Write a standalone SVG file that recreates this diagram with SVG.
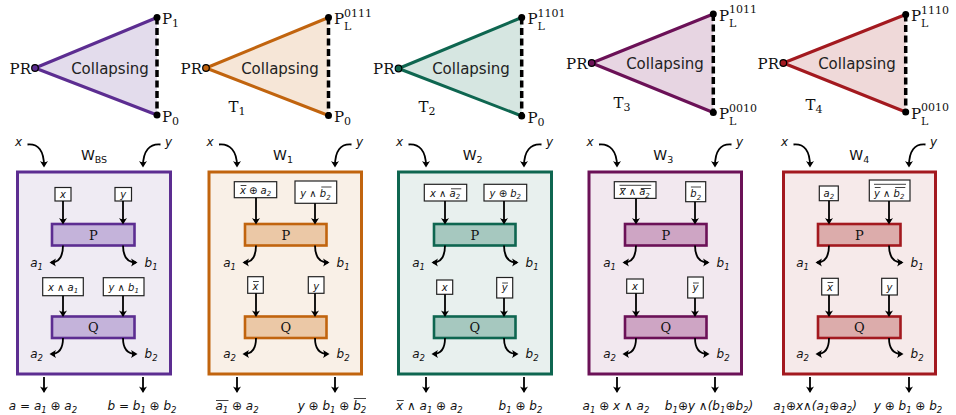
<svg xmlns="http://www.w3.org/2000/svg" width="956" height="415" viewBox="0 0 956 415">
<defs>
<marker id="ah" viewBox="-6 -5 8 10" refX="0" refY="0" markerWidth="8" markerHeight="10" markerUnits="userSpaceOnUse" orient="auto">
<path d="M1.5,0 L-5,-4 Q-2.6,0 -5,4 Z" fill="#000"/>
</marker>
<style>
.edge{stroke-width:3;stroke-linecap:round}
.dash{stroke:#000;stroke-width:3.5;stroke-dasharray:7 3.5}
.vtx{fill:#000}
.root{stroke:#000;stroke-width:1.2}
.rm{font-family:"DejaVu Serif","Liberation Serif",serif;font-size:15px;fill:#111}
.cl{font-family:"DejaVu Sans","Liberation Sans",sans-serif;font-size:15px;fill:#222}
.mi{font-family:"DejaVu Sans","Liberation Sans",sans-serif;font-style:italic;fill:#111}
.bx{font-size:10px}
.lb{font-size:12px}
.w{font-family:"DejaVu Sans","Liberation Sans",sans-serif;font-size:14px;fill:#111}
.frame{stroke-width:3}
.proc{stroke-width:2.6}
.inbox{fill:#fff;stroke:#222;stroke-width:1.2}
.tt{font-family:"DejaVu Serif","Liberation Serif",serif;font-size:13px;fill:#111}
.wire{fill:none;stroke:#000;stroke-width:1.8;marker-end:url(#ah)}
.ol{stroke:#111;stroke-width:0.8}
</style>
</defs>

<!-- ===== collapsing triangles ===== -->
<g id="tri-bs">
<polygon points="35,68 157,17.5 157,115" fill="#e3dcec"/>
<line x1="35" y1="68" x2="157" y2="17.5" class="edge" stroke="#5c2d91"/>
<line x1="35" y1="68" x2="157" y2="115" class="edge" stroke="#5c2d91"/>
<line x1="157" y1="17.5" x2="157" y2="115" class="dash"/>
<circle cx="157" cy="17.5" r="3.5" class="vtx"/><circle cx="157" cy="115" r="3.5" class="vtx"/>
<circle cx="35" cy="68" r="3.3" fill="#5c2d91" class="root"/>
<text x="31" y="73.5" class="rm" text-anchor="end">PR</text>
<text x="162" y="24" class="rm">P<tspan font-size="11" dy="3">1</tspan></text>
<text x="162" y="122" class="rm">P<tspan font-size="11" dy="3">0</tspan></text>
<text x="110" y="73.5" class="cl" text-anchor="middle">Collapsing</text>
</g>

<g id="tri-1">
<polygon points="206,68 328.5,17.5 328.5,115.5" fill="#f6e6d7"/>
<line x1="206" y1="68" x2="328.5" y2="17.5" class="edge" stroke="#c1640e"/>
<line x1="206" y1="68" x2="328.5" y2="115.5" class="edge" stroke="#c1640e"/>
<line x1="328.5" y1="17.5" x2="328.5" y2="115.5" class="dash"/>
<circle cx="328.5" cy="17.5" r="3.5" class="vtx"/><circle cx="328.5" cy="115.5" r="3.5" class="vtx"/>
<circle cx="206" cy="68" r="3.3" fill="#c1640e" class="root"/>
<text x="202" y="73.5" class="rm" text-anchor="end">PR</text>
<text x="334" y="24" class="rm">P<tspan font-size="11" x="344" y="16.5">0111</tspan><tspan font-size="11" x="344" y="30">L</tspan></text>
<text x="334" y="122" class="rm">P<tspan font-size="11" dy="3">0</tspan></text>
<text x="237" y="112" class="rm" text-anchor="middle">T<tspan font-size="11" dy="3">1</tspan></text>
<text x="280" y="73.5" class="cl" text-anchor="middle">Collapsing</text>
</g>

<g id="tri-2">
<polygon points="398.5,68.5 521.7,17.5 521.7,116" fill="#d6e6e1"/>
<line x1="398.5" y1="68.5" x2="521.7" y2="17.5" class="edge" stroke="#0e6650"/>
<line x1="398.5" y1="68.5" x2="521.7" y2="116" class="edge" stroke="#0e6650"/>
<line x1="521.7" y1="17.5" x2="521.7" y2="116" class="dash"/>
<circle cx="521.7" cy="17.5" r="3.5" class="vtx"/><circle cx="521.7" cy="116" r="3.5" class="vtx"/>
<circle cx="398.5" cy="68.5" r="3.3" fill="#0e6650" class="root"/>
<text x="394.5" y="74" class="rm" text-anchor="end">PR</text>
<text x="527.5" y="24" class="rm">P<tspan font-size="11" x="537.5" y="16.5">1101</tspan><tspan font-size="11" x="537.5" y="30">L</tspan></text>
<text x="527.5" y="122.5" class="rm">P<tspan font-size="11" dy="3">0</tspan></text>
<text x="427" y="111.5" class="rm" text-anchor="middle">T<tspan font-size="11" dy="3">2</tspan></text>
<text x="471" y="74" class="cl" text-anchor="middle">Collapsing</text>
</g>

<g id="tri-3">
<polygon points="591.7,63 713.3,14 713.3,112.5" fill="#e7d5e2"/>
<line x1="591.7" y1="63" x2="713.3" y2="14" class="edge" stroke="#6b1157"/>
<line x1="591.7" y1="63" x2="713.3" y2="112.5" class="edge" stroke="#6b1157"/>
<line x1="713.3" y1="14" x2="713.3" y2="112.5" class="dash"/>
<circle cx="713.3" cy="14" r="3.5" class="vtx"/><circle cx="713.3" cy="112.5" r="3.5" class="vtx"/>
<circle cx="591.7" cy="63" r="3.3" fill="#6b1157" class="root"/>
<text x="587.5" y="68.5" class="rm" text-anchor="end">PR</text>
<text x="719" y="20.5" class="rm">P<tspan font-size="11" x="729" y="13">1011</tspan><tspan font-size="11" x="729" y="26.5">L</tspan></text>
<text x="719" y="119" class="rm">P<tspan font-size="11" x="729" y="111.5">0010</tspan><tspan font-size="11" x="729" y="125">L</tspan></text>
<text x="622" y="107.5" class="rm" text-anchor="middle">T<tspan font-size="11" dy="3">3</tspan></text>
<text x="665" y="68.5" class="cl" text-anchor="middle">Collapsing</text>
</g>

<g id="tri-4">
<polygon points="783.3,63 905.7,14.5 905.7,112" fill="#efd9d9"/>
<line x1="783.3" y1="63" x2="905.7" y2="14.5" class="edge" stroke="#a3191f"/>
<line x1="783.3" y1="63" x2="905.7" y2="112" class="edge" stroke="#a3191f"/>
<line x1="905.7" y1="14.5" x2="905.7" y2="112" class="dash"/>
<circle cx="905.7" cy="14.5" r="3.5" class="vtx"/><circle cx="905.7" cy="112" r="3.5" class="vtx"/>
<circle cx="783.3" cy="63" r="3.3" fill="#a3191f" class="root"/>
<text x="779" y="68.5" class="rm" text-anchor="end">PR</text>
<text x="911" y="21" class="rm">P<tspan font-size="11" x="921" y="13.5">1110</tspan><tspan font-size="11" x="921" y="27">L</tspan></text>
<text x="911" y="118.5" class="rm">P<tspan font-size="11" x="921" y="111">0010</tspan><tspan font-size="11" x="921" y="124.5">L</tspan></text>
<text x="814" y="110" class="rm" text-anchor="middle">T<tspan font-size="11" dy="3">4</tspan></text>
<text x="857" y="68.5" class="cl" text-anchor="middle">Collapsing</text>
</g>

<!-- ===== panel frames and labels ===== -->
<g id="panel-bs">
<rect x="17.5" y="172" width="153" height="202" class="frame" fill="#efebf3" stroke="#5c2d91"/>
<text x="94" y="160" class="w" text-anchor="middle">W<tspan font-size="9.5" dy="3">BS</tspan></text>
<text x="18.5" y="146" class="mi lb" text-anchor="middle">x</text>
<text x="168.5" y="146" class="mi lb" text-anchor="middle">y</text>
</g>
<g id="panel-1">
<rect x="209" y="172" width="152.5" height="202" class="frame" fill="#f9f0e7" stroke="#c1640e"/>
<text x="283" y="160" class="w" text-anchor="middle">W<tspan font-size="9.5" dy="3">1</tspan></text>
<text x="210" y="146" class="mi lb" text-anchor="middle">x</text>
<text x="359.5" y="146" class="mi lb" text-anchor="middle">y</text>
</g>
<g id="panel-2">
<rect x="398.5" y="172" width="153" height="202" class="frame" fill="#e8f0ee" stroke="#0e6650"/>
<text x="472.7" y="160" class="w" text-anchor="middle">W<tspan font-size="9.5" dy="3">2</tspan></text>
<text x="399.5" y="146" class="mi lb" text-anchor="middle">x</text>
<text x="549.5" y="146" class="mi lb" text-anchor="middle">y</text>
</g>
<g id="panel-3">
<rect x="589" y="172" width="152.5" height="202" class="frame" fill="#f2e8ef" stroke="#6b1157"/>
<text x="663.3" y="160" class="w" text-anchor="middle">W<tspan font-size="9.5" dy="3">3</tspan></text>
<text x="590" y="146" class="mi lb" text-anchor="middle">x</text>
<text x="739.5" y="146" class="mi lb" text-anchor="middle">y</text>
</g>
<g id="panel-4">
<rect x="783.5" y="172" width="152" height="202" class="frame" fill="#f6eaea" stroke="#a3191f"/>
<text x="859.3" y="160" class="w" text-anchor="middle">W<tspan font-size="9.5" dy="3">4</tspan></text>
<text x="784.5" y="146" class="mi lb" text-anchor="middle">x</text>
<text x="933.5" y="146" class="mi lb" text-anchor="middle">y</text>
</g>

<!-- ===== W_BS nodes ===== -->
<g id="bs-in-x"><rect x="55" y="187.5" width="16" height="13.5" class="inbox"/><text x="63" y="197.8" class="mi bx" text-anchor="middle">x</text></g>
<g id="bs-in-y"><rect x="115" y="187.5" width="16.5" height="13.5" class="inbox"/><text x="123.2" y="197.5" class="mi bx" text-anchor="middle">y</text></g>
<g id="bs-P"><rect x="52" y="224" width="82.5" height="21.5" class="proc" fill="#c4b3da" stroke="#5c2d91"/><text x="93.25" y="239.5" class="tt" text-anchor="middle">P</text></g>
<g id="bs-in2-x"><rect x="42.7" y="277.7" width="40.6" height="18" class="inbox"/><text x="63" y="290.5" class="mi bx" text-anchor="middle">x ∧ a<tspan font-size="7" dy="2.5">1</tspan></text></g>
<g id="bs-in2-y"><rect x="103.3" y="277.7" width="40.7" height="18" class="inbox"/><text x="123.7" y="290.5" class="mi bx" text-anchor="middle">y ∧ b<tspan font-size="7" dy="2.5">1</tspan></text></g>
<g id="bs-Q"><rect x="52" y="316.5" width="82.5" height="21.5" class="proc" fill="#c4b3da" stroke="#5c2d91"/><text x="93.25" y="332" class="tt" text-anchor="middle">Q</text></g>
<g id="bs-labels">
<text x="43" y="267" class="mi lb" text-anchor="end">a<tspan font-size="8.5" dy="3">1</tspan></text>
<text x="144.5" y="267" class="mi lb">b<tspan font-size="8.5" dy="3">1</tspan></text>
<text x="43" y="358" class="mi lb" text-anchor="end">a<tspan font-size="8.5" dy="3">2</tspan></text>
<text x="144.5" y="358" class="mi lb">b<tspan font-size="8.5" dy="3">2</tspan></text>
<text x="43" y="409.5" class="mi lb" text-anchor="middle">a = a<tspan font-size="8.5" dy="3">1</tspan><tspan dy="-3"> ⊕ a</tspan><tspan font-size="8.5" dy="3">2</tspan></text>
<text x="142" y="409.5" class="mi lb" text-anchor="middle">b = b<tspan font-size="8.5" dy="3">1</tspan><tspan dy="-3"> ⊕ b</tspan><tspan font-size="8.5" dy="3">2</tspan></text>
</g>

<!-- ===== W1 nodes ===== -->
<g id="w1-in-x"><rect x="234.3" y="181.7" width="42.4" height="16" class="inbox"/><text x="239.9" y="193.5" class="mi bx">x ⊕ a<tspan font-size="7" dy="2.5">2</tspan></text><line x1="240.6" y1="185.5" x2="246.4" y2="185.5" class="ol"/></g>
<g id="w1-in-y"><rect x="295" y="181" width="41.7" height="22.3" class="inbox"/><text x="300.2" y="197" class="mi bx">y ∧ b<tspan font-size="7" dy="2.5">2</tspan></text><line x1="321.3" y1="187" x2="331.5" y2="187" class="ol"/></g>
<g id="w1-P"><rect x="245" y="224" width="81.5" height="21.5" class="proc" fill="#ebc8a6" stroke="#c1640e"/><text x="285.75" y="239.5" class="tt" text-anchor="middle">P</text></g>
<g id="w1-in2-x"><rect x="247.7" y="276.7" width="15.6" height="16.6" class="inbox"/><text x="255.5" y="289.5" class="mi bx" text-anchor="middle">x</text><line x1="253" y1="281.5" x2="258.8" y2="281.5" class="ol"/></g>
<g id="w1-in2-y"><rect x="308.3" y="276.7" width="15.7" height="16.6" class="inbox"/><text x="316.2" y="289.5" class="mi bx" text-anchor="middle">y</text></g>
<g id="w1-Q"><rect x="245" y="316.5" width="81.5" height="21.5" class="proc" fill="#ebc8a6" stroke="#c1640e"/><text x="285.75" y="332" class="tt" text-anchor="middle">Q</text></g>
<g id="w1-labels">
<text x="236" y="267" class="mi lb" text-anchor="end">a<tspan font-size="8.5" dy="3">1</tspan></text>
<text x="336.5" y="267" class="mi lb">b<tspan font-size="8.5" dy="3">1</tspan></text>
<text x="236" y="358" class="mi lb" text-anchor="end">a<tspan font-size="8.5" dy="3">2</tspan></text>
<text x="336.5" y="358" class="mi lb">b<tspan font-size="8.5" dy="3">2</tspan></text>
<text x="215.4" y="409.5" class="mi lb">a<tspan font-size="8.5" dy="3">1</tspan><tspan dy="-3"> ⊕ a</tspan><tspan font-size="8.5" dy="3">2</tspan></text>
<line x1="216" y1="400.5" x2="228.5" y2="400.5" class="ol"/>
<text x="297.7" y="409.5" class="mi lb">y ⊕ b<tspan font-size="8.5" dy="3">1</tspan><tspan dy="-3"> ⊕ b</tspan><tspan font-size="8.5" dy="3">2</tspan></text>
<line x1="353.8" y1="398.5" x2="366" y2="398.5" class="ol"/>
</g>

<!-- ===== W2 nodes ===== -->
<g id="w2-in-x"><rect x="424.3" y="184.3" width="42.4" height="16.7" class="inbox"/><text x="429.9" y="196.5" class="mi bx">x ∧ a<tspan font-size="7" dy="2.5">2</tspan></text><line x1="451" y1="188.8" x2="461.3" y2="188.8" class="ol"/></g>
<g id="w2-in-y"><rect x="484" y="184.3" width="42.7" height="16.7" class="inbox"/><text x="505.3" y="196.5" class="mi bx" text-anchor="middle">y ⊕ b<tspan font-size="7" dy="2.5">2</tspan></text></g>
<g id="w2-P"><rect x="434" y="224" width="81.5" height="21.5" class="proc" fill="#a6c8bf" stroke="#0e6650"/><text x="474.75" y="239.5" class="tt" text-anchor="middle">P</text></g>
<g id="w2-in2-x"><rect x="436.7" y="280" width="16" height="14.3" class="inbox"/><text x="444.7" y="291" class="mi bx" text-anchor="middle">x</text></g>
<g id="w2-in2-y"><rect x="496.7" y="277.5" width="16" height="20.5" class="inbox"/><text x="504.7" y="291" class="mi bx" text-anchor="middle">y</text><line x1="502.2" y1="283" x2="508" y2="283" class="ol"/></g>
<g id="w2-Q"><rect x="434" y="316.5" width="81.5" height="21.5" class="proc" fill="#a6c8bf" stroke="#0e6650"/><text x="474.75" y="332" class="tt" text-anchor="middle">Q</text></g>
<g id="w2-labels">
<text x="425" y="267" class="mi lb" text-anchor="end">a<tspan font-size="8.5" dy="3">1</tspan></text>
<text x="525.5" y="267" class="mi lb">b<tspan font-size="8.5" dy="3">1</tspan></text>
<text x="425" y="358" class="mi lb" text-anchor="end">a<tspan font-size="8.5" dy="3">2</tspan></text>
<text x="525.5" y="358" class="mi lb">b<tspan font-size="8.5" dy="3">2</tspan></text>
<text x="396" y="409.5" class="mi lb">x ∧ a<tspan font-size="8.5" dy="3">1</tspan><tspan dy="-3"> ⊕ a</tspan><tspan font-size="8.5" dy="3">2</tspan></text>
<line x1="396.8" y1="400.5" x2="403.8" y2="400.5" class="ol"/>
<text x="520.5" y="409.5" class="mi lb" text-anchor="middle">b<tspan font-size="8.5" dy="3">1</tspan><tspan dy="-3"> ⊕ b</tspan><tspan font-size="8.5" dy="3">2</tspan></text>
</g>

<!-- ===== W3 nodes ===== -->
<g id="w3-in-x"><rect x="614.3" y="181.7" width="41.7" height="16.7" class="inbox"/><text x="619.6" y="195.3" class="mi bx">x ∧ a<tspan font-size="7" dy="2.5">2</tspan></text><line x1="620.3" y1="188.5" x2="626" y2="188.5" class="ol"/><line x1="640.8" y1="188.5" x2="650.8" y2="188.5" class="ol"/><line x1="619.5" y1="185.3" x2="651.3" y2="185.3" class="ol"/></g>
<g id="w3-in-y"><rect x="685.7" y="181.7" width="20" height="20" class="inbox"/><text x="690.3" y="197" class="mi bx">b<tspan font-size="7" dy="2.5">2</tspan></text><line x1="690.9" y1="187" x2="701" y2="187" class="ol"/></g>
<g id="w3-P"><rect x="625" y="224" width="81.5" height="21.5" class="proc" fill="#cea5c4" stroke="#6b1157"/><text x="665.75" y="239.5" class="tt" text-anchor="middle">P</text></g>
<g id="w3-in2-x"><rect x="626.7" y="279" width="16.6" height="14.3" class="inbox"/><text x="635" y="290" class="mi bx" text-anchor="middle">x</text></g>
<g id="w3-in2-y"><rect x="687.7" y="277" width="15.6" height="21" class="inbox"/><text x="695.5" y="291" class="mi bx" text-anchor="middle">y</text><line x1="693" y1="283" x2="698.8" y2="283" class="ol"/></g>
<g id="w3-Q"><rect x="625" y="316.5" width="81.5" height="21.5" class="proc" fill="#cea5c4" stroke="#6b1157"/><text x="665.75" y="332" class="tt" text-anchor="middle">Q</text></g>
<g id="w3-labels">
<text x="616" y="267" class="mi lb" text-anchor="end">a<tspan font-size="8.5" dy="3">1</tspan></text>
<text x="716.5" y="267" class="mi lb">b<tspan font-size="8.5" dy="3">1</tspan></text>
<text x="616" y="358" class="mi lb" text-anchor="end">a<tspan font-size="8.5" dy="3">2</tspan></text>
<text x="716.5" y="358" class="mi lb">b<tspan font-size="8.5" dy="3">2</tspan></text>
<text x="616" y="409.5" class="mi lb" text-anchor="middle">a<tspan font-size="8.5" dy="3">1</tspan><tspan dy="-3"> ⊕ x ∧ a</tspan><tspan font-size="8.5" dy="3">2</tspan></text>
<text x="709" y="409.5" class="mi lb" text-anchor="middle">b<tspan font-size="8.5" dy="3">1</tspan><tspan dy="-3">⊕y ∧(b</tspan><tspan font-size="8.5" dy="3">1</tspan><tspan dy="-3">⊕b</tspan><tspan font-size="8.5" dy="3">2</tspan><tspan dy="-3">)</tspan></text>
</g>

<!-- ===== W4 nodes ===== -->
<g id="w4-in-x"><rect x="819.3" y="186" width="19" height="14.7" class="inbox"/><text x="828.8" y="196.5" class="mi bx" text-anchor="middle">a<tspan font-size="7" dy="2.5">2</tspan></text></g>
<g id="w4-in-y"><rect x="869.3" y="180" width="40.7" height="21" class="inbox"/><text x="874" y="196.5" class="mi bx">y ∧ b<tspan font-size="7" dy="2.5">2</tspan></text><line x1="874.8" y1="187.5" x2="880.6" y2="187.5" class="ol"/><line x1="895.2" y1="187.5" x2="905.3" y2="187.5" class="ol"/><line x1="874" y1="184.3" x2="906" y2="184.3" class="ol"/></g>
<g id="w4-P"><rect x="818" y="224" width="82.5" height="21.5" class="proc" fill="#dcacab" stroke="#a3191f"/><text x="859.25" y="239.5" class="tt" text-anchor="middle">P</text></g>
<g id="w4-in2-x"><rect x="821.7" y="278.3" width="16.6" height="16.7" class="inbox"/><text x="830" y="290.5" class="mi bx" text-anchor="middle">x</text><line x1="827.5" y1="282.5" x2="833.3" y2="282.5" class="ol"/></g>
<g id="w4-in2-y"><rect x="881.7" y="278.3" width="15.6" height="16.7" class="inbox"/><text x="889.5" y="290.5" class="mi bx" text-anchor="middle">y</text></g>
<g id="w4-Q"><rect x="818" y="316.5" width="82.5" height="21.5" class="proc" fill="#dcacab" stroke="#a3191f"/><text x="859.25" y="332" class="tt" text-anchor="middle">Q</text></g>
<g id="w4-labels">
<text x="809" y="267" class="mi lb" text-anchor="end">a<tspan font-size="8.5" dy="3">1</tspan></text>
<text x="910.5" y="267" class="mi lb">b<tspan font-size="8.5" dy="3">1</tspan></text>
<text x="809" y="358" class="mi lb" text-anchor="end">a<tspan font-size="8.5" dy="3">2</tspan></text>
<text x="910.5" y="358" class="mi lb">b<tspan font-size="8.5" dy="3">2</tspan></text>
<text x="815" y="409.5" class="mi lb" text-anchor="middle">a<tspan font-size="8.5" dy="3">1</tspan><tspan dy="-3">⊕x∧(a</tspan><tspan font-size="8.5" dy="3">1</tspan><tspan dy="-3">⊕a</tspan><tspan font-size="8.5" dy="3">2</tspan><tspan dy="-3">)</tspan></text>
<text x="908" y="409.5" class="mi lb" text-anchor="middle">y ⊕ b<tspan font-size="8.5" dy="3">1</tspan><tspan dy="-3"> ⊕ b</tspan><tspan font-size="8.5" dy="3">2</tspan></text>
</g>

<!-- ===== connectors ===== -->
<g id="connectors">
<!-- W_BS -->
<path class="wire" d="M27.5,144.5 C38.5,143.5 44,151 44,166"/>
<path class="wire" d="M160.5,144.5 C149.5,143.5 143,151 143,166"/>
<path class="wire" d="M63,201 L63,223"/>
<path class="wire" d="M123,201 L123,223"/>
<path class="wire" d="M63,245.5 C63,256 59,262.5 51,262.5"/>
<path class="wire" d="M123,245.5 C123,256 127,262.5 136,262.5"/>
<path class="wire" d="M63,295.7 L63,315.5"/>
<path class="wire" d="M123,295.7 L123,315.5"/>
<path class="wire" d="M63,338 C63,348 59,354 51,354"/>
<path class="wire" d="M123,338 C123,348 127,354 136,354"/>
<path class="wire" d="M44,377 L44,391.5"/>
<path class="wire" d="M143,377 L143,391.5"/>
<!-- W1 -->
<path class="wire" d="M219,144.5 C230,143.5 237,151 237,166"/>
<path class="wire" d="M351.5,144.5 C340.5,143.5 335,151 335,166"/>
<path class="wire" d="M256,197.7 L256,223"/>
<path class="wire" d="M315,203.3 L315,223"/>
<path class="wire" d="M256,245.5 C256,256 252,262.5 244,262.5"/>
<path class="wire" d="M315,245.5 C315,256 319,262.5 328,262.5"/>
<path class="wire" d="M256,293.3 L256,315.5"/>
<path class="wire" d="M315,293.3 L315,315.5"/>
<path class="wire" d="M256,338 C256,348 252,354 244,354"/>
<path class="wire" d="M315,338 C315,348 319,354 328,354"/>
<path class="wire" d="M237,377 L237,391.5"/>
<path class="wire" d="M335,377 L335,391.5"/>
<!-- W2 -->
<path class="wire" d="M408.5,144.5 C419.5,143.5 426,151 426,166"/>
<path class="wire" d="M541.5,144.5 C530.5,143.5 524,151 524,166"/>
<path class="wire" d="M445,201 L445,223"/>
<path class="wire" d="M504,201 L504,223"/>
<path class="wire" d="M445,245.5 C445,256 441,262.5 433,262.5"/>
<path class="wire" d="M504,245.5 C504,256 508,262.5 517,262.5"/>
<path class="wire" d="M445,294.3 L445,315.5"/>
<path class="wire" d="M504,298 L504,315.5"/>
<path class="wire" d="M445,338 C445,348 441,354 433,354"/>
<path class="wire" d="M504,338 C504,348 508,354 517,354"/>
<path class="wire" d="M426,377 L426,391.5"/>
<path class="wire" d="M524,377 L524,391.5"/>
<!-- W3 -->
<path class="wire" d="M599,144.5 C610,143.5 617,151 617,166"/>
<path class="wire" d="M731.5,144.5 C720.5,143.5 715,151 715,166"/>
<path class="wire" d="M636,198.4 L636,223"/>
<path class="wire" d="M695,201.7 L695,223"/>
<path class="wire" d="M636,245.5 C636,256 632,262.5 624,262.5"/>
<path class="wire" d="M695,245.5 C695,256 699,262.5 708,262.5"/>
<path class="wire" d="M636,293.3 L636,315.5"/>
<path class="wire" d="M695,298 L695,315.5"/>
<path class="wire" d="M636,338 C636,348 632,354 624,354"/>
<path class="wire" d="M695,338 C695,348 699,354 708,354"/>
<path class="wire" d="M617,377 L617,391.5"/>
<path class="wire" d="M715,377 L715,391.5"/>
<!-- W4 -->
<path class="wire" d="M793.5,144.5 C804.5,143.5 810,151 810,166"/>
<path class="wire" d="M925.5,144.5 C914.5,143.5 909,151 909,166"/>
<path class="wire" d="M829,200.7 L829,223"/>
<path class="wire" d="M889,201 L889,223"/>
<path class="wire" d="M829,245.5 C829,256 825,262.5 817,262.5"/>
<path class="wire" d="M889,245.5 C889,256 893,262.5 902,262.5"/>
<path class="wire" d="M829,295 L829,315.5"/>
<path class="wire" d="M889,295 L889,315.5"/>
<path class="wire" d="M829,338 C829,348 825,354 817,354"/>
<path class="wire" d="M889,338 C889,348 893,354 902,354"/>
<path class="wire" d="M810,377 L810,391.5"/>
<path class="wire" d="M909,377 L909,391.5"/>
</g>
</svg>
